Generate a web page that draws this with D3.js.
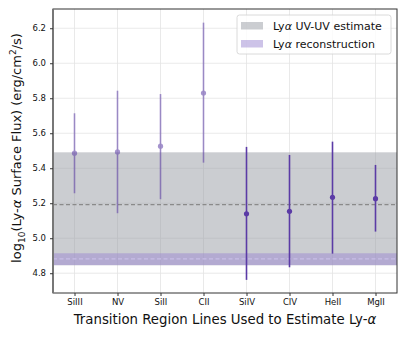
<!DOCTYPE html>
<html lang="en">
<head>
<meta charset="UTF-8"/>
<title>Ly-alpha surface flux</title>
<script src="https://d3js.org/d3.v7.min.js"></script>
<style>
  body { margin: 0; background: #fff; }
  text { font-family: "DejaVu Sans", sans-serif; fill: #111; }
</style>
</head>
<body>
<script>
var w = 407;
var h = 339;
var margin = {top: 9, right: 10, bottom: 46, left: 53};

var lines = ["SiIII", "NV", "SiII", "CII", "SiIV", "CIV", "HeII", "MgII"];
var fluxVals = [5.486, 5.493, 5.526, 5.830, 5.140, 5.154, 5.234, 5.226];
var fluxLow  = [5.257, 5.143, 5.223, 5.432, 4.762, 4.834, 4.912, 5.038];
var fluxHigh = [5.714, 5.843, 5.824, 6.232, 5.522, 5.476, 5.552, 5.419];
var faded    = [true, true, true, true, false, false, false, false];
var yTicks = [4.8, 5.0, 5.2, 5.4, 5.6, 5.8, 6.0, 6.2];

var uvEstimate = [4.846, 5.192, 5.491];   // low, mid, high
var recon = [4.846, 4.882, 4.914];

var purple = "#5b3ba6";

var svg = d3.select("body").append("svg")
    .attr("width", w)
    .attr("height", h);

var xScale = d3.scaleLinear()
    .domain([-0.5, lines.length - 0.5])
    .range([margin.left, w - margin.right]);

var yScale = d3.scaleLinear()
    .domain([4.687, 6.31])
    .range([h - margin.bottom, margin.top]);

var x0 = margin.left, x1 = w - margin.right;
var y0 = margin.top, y1 = h - margin.bottom;

// grid
svg.selectAll(".hgrid").data(yTicks).enter().append("line")
    .attr("x1", x0).attr("x2", x1)
    .attr("y1", function(d) { return yScale(d); })
    .attr("y2", function(d) { return yScale(d); })
    .attr("stroke", "#e3e3e3").attr("stroke-width", 0.8);
svg.selectAll(".vgrid").data(lines).enter().append("line")
    .attr("x1", function(d, i) { return xScale(i); })
    .attr("x2", function(d, i) { return xScale(i); })
    .attr("y1", y0).attr("y2", y1)
    .attr("stroke", "#e3e3e3").attr("stroke-width", 0.8);

// bands
svg.append("rect")
    .attr("x", x0).attr("width", x1 - x0)
    .attr("y", yScale(uvEstimate[2]))
    .attr("height", yScale(uvEstimate[0]) - yScale(uvEstimate[2]))
    .attr("fill", "#989ca4").attr("fill-opacity", 0.5);
svg.append("line")
    .attr("x1", x0).attr("x2", x1)
    .attr("y1", yScale(uvEstimate[1])).attr("y2", yScale(uvEstimate[1]))
    .attr("stroke", "#8a8a8a").attr("stroke-width", 1.2)
    .attr("stroke-dasharray", "4,2.5");

svg.append("rect")
    .attr("x", x0).attr("width", x1 - x0)
    .attr("y", yScale(recon[2]))
    .attr("height", yScale(recon[0]) - yScale(recon[2]))
    .attr("fill", "#9b88d2").attr("fill-opacity", 0.5);
svg.append("line")
    .attr("x1", x0).attr("x2", x1)
    .attr("y1", yScale(recon[1])).attr("y2", yScale(recon[1]))
    .attr("stroke", "#c8bde6").attr("stroke-width", 1.2)
    .attr("stroke-dasharray", "4,2.5");

// error bars
var pts = svg.selectAll(".pt").data(lines).enter().append("g")
    .attr("opacity", function(d, i) { return faded[i] ? 0.55 : 1; });
pts.append("line")
    .attr("x1", function(d, i) { return xScale(i); })
    .attr("x2", function(d, i) { return xScale(i); })
    .attr("y1", function(d, i) { return yScale(fluxLow[i]); })
    .attr("y2", function(d, i) { return yScale(fluxHigh[i]); })
    .attr("stroke", purple).attr("stroke-width", 1.6);
pts.append("circle")
    .attr("cx", function(d, i) { return xScale(i); })
    .attr("cy", function(d, i) { return yScale(fluxVals[i]); })
    .attr("r", 2.6)
    .attr("fill", purple);

// spines
svg.append("rect")
    .attr("x", x0).attr("y", y0)
    .attr("width", x1 - x0).attr("height", y1 - y0)
    .attr("fill", "none").attr("stroke", "#333").attr("stroke-width", 1);
svg.append("line")
    .attr("x1", x0).attr("x2", x0).attr("y1", y0).attr("y2", y1)
    .attr("stroke", "#777").attr("stroke-width", 2);

// axes
var xAxis = d3.axisBottom(xScale)
    .tickValues(d3.range(lines.length))
    .tickFormat(function(i) { return lines[i]; })
    .tickSize(3).tickPadding(3);
var gx = svg.append("g")
    .attr("transform", "translate(0," + y1 + ")")
    .call(xAxis);
gx.select(".domain").remove();
gx.selectAll("text").attr("font-size", "8.5px").attr("fill", "#111");
gx.selectAll("line").attr("stroke", "#333");

var yAxis = d3.axisLeft(yScale)
    .tickValues(yTicks)
    .tickFormat(d3.format(".1f"))
    .tickSize(3).tickPadding(4);
var gy = svg.append("g")
    .attr("transform", "translate(" + x0 + ",0)")
    .call(yAxis);
gy.select(".domain").remove();
gy.selectAll("text").attr("font-size", "8.5px").attr("fill", "#111");
gy.selectAll("line").attr("stroke", "#333");

// axis labels
svg.append("text")
    .attr("x", (x0 + x1) / 2).attr("y", 324)
    .attr("text-anchor", "middle")
    .attr("font-size", "13.3px")
    .html("Transition Region Lines Used to Estimate Ly-<tspan font-style='italic'>α</tspan>");

var ylab = svg.append("text")
    .attr("transform", "translate(21," + ((y0 + y1) / 2 - 3) + ") rotate(-90)")
    .attr("text-anchor", "middle")
    .attr("font-size", "13px");
ylab.append("tspan").text("log");
ylab.append("tspan").attr("font-size", "9px").attr("dy", 3.5).text("10");
ylab.append("tspan").attr("dy", -3.5).text("(Ly-");
ylab.append("tspan").attr("font-style", "italic").text("α");
ylab.append("tspan").text(" Surface Flux) (erg/cm");
ylab.append("tspan").attr("font-size", "9px").attr("dy", -5).text("2");
ylab.append("tspan").attr("dy", 5).text("/s)");

// legend
var legend = svg.append("g");
legend.append("rect")
    .attr("x", 237).attr("y", 15).attr("width", 154).attr("height", 39)
    .attr("rx", 2.5)
    .attr("fill", "#fff").attr("fill-opacity", 0.8)
    .attr("stroke", "#d0d0d0").attr("stroke-width", 0.8);
var legItems = [
    {label: "UV-UV estimate", color: "#989ca4"},
    {label: "reconstruction", color: "#9b88d2"}
];
legItems.forEach(function(d, i) {
    var yy = 22 + i * 18;
    legend.append("rect")
        .attr("x", 241).attr("y", yy).attr("width", 22).attr("height", 7.5)
        .attr("fill", d.color).attr("fill-opacity", 0.5);
    var t = legend.append("text")
        .attr("x", 273).attr("y", yy + 8)
        .attr("font-size", "11px");
    t.append("tspan").text("Ly");
    t.append("tspan").attr("font-style", "italic").text("α");
    t.append("tspan").text(" " + d.label);
});
</script>
</body>
</html>
